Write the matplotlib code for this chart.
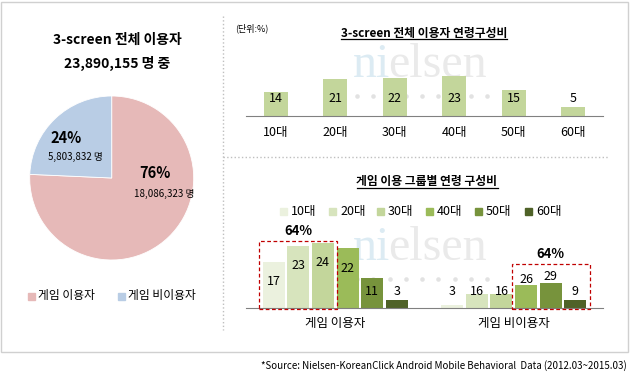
import matplotlib
matplotlib.use("Agg")
import matplotlib.pyplot as plt
from matplotlib.lines import Line2D
from matplotlib.patches import Rectangle
import numpy as np

plt.rcParams["font.family"] = ["Noto Sans CJK KR", "DejaVu Sans"]

# data
pie_labels = ["게임 이용자", "게임 비이용자"]
pie_counts = [18086323, 5803832]
total_users = 23890155

age_labels = ["10대", "20대", "30대", "40대", "50대", "60대"]
total_age_pct = [14, 21, 22, 23, 15, 5]

group_labels = ["게임 이용자", "게임 비이용자"]
group_age_pct = [
    [17, 23, 24, 22, 11, 3],
    [3, 16, 16, 26, 29, 9],
]
highlight = [[0, 1, 2], [3, 4, 5]]

pie_colors = ["#E6B9B8", "#B9CDE5"]
top_color = "#C3D69B"
age_colors = ["#EBF1DE", "#D7E4BD", "#C3D69B", "#9BBB59", "#77933C", "#4F6228"]

W, H = 630, 382


def fr(x, y, w, h):
    # pixel box (top-left origin) -> figure fraction
    return [x / W, 1 - (y + h) / H, w / W, h / H]


fig = plt.figure(figsize=(W / 100, H / 100), dpi=100)
renderer = fig.canvas.get_renderer()

# frame and separators
fig.add_artist(Rectangle((1 / W, 1 - 352 / H), 627 / W, 350 / H, transform=fig.transFigure,
                         fill=False, edgecolor="#D0D0D0", linewidth=1))
fig.add_artist(Line2D([223 / W, 223 / W], [1 - 16 / H, 1 - 330 / H], transform=fig.transFigure,
                      color="#BFBFBF", linestyle=":", linewidth=1))
fig.add_artist(Line2D([223 / W, 608 / W], [1 - 157 / H, 1 - 157 / H], transform=fig.transFigure,
                      color="#BFBFBF", linestyle=":", linewidth=1))

# ---- pie ----
fig.text(117 / W, 1 - 40 / H, "3-screen 전체 이용자", ha="center", va="center",
         fontsize=10, fontweight="bold")
fig.text(117 / W, 1 - 63 / H, f"{total_users:,} 명 중", ha="center", va="center",
         fontsize=10, fontweight="bold")

ax_pie = fig.add_axes(fr(111.7 - 82, 178 - 82, 164, 164))
ax_pie.pie(pie_counts, colors=pie_colors, startangle=90, counterclock=False,
           wedgeprops=dict(linewidth=0.6, edgecolor="white"))
ax_pie.set_xlim(-1, 1)
ax_pie.set_ylim(-1, 1)
ax_pie.set_aspect("equal")
ax_pie.axis("off")
shares = [c / sum(pie_counts) * 100 for c in pie_counts]
ax_pie.text(0.53, 0.06, f"{shares[0]:.0f}%", ha="center", va="center", fontsize=10.5, fontweight="bold")
ax_pie.text(0.64, -0.20, f"{pie_counts[0]:,} 명", ha="center", va="center", fontsize=7)
ax_pie.text(-0.56, 0.49, f"{shares[1]:.0f}%", ha="center", va="center", fontsize=10.5, fontweight="bold")
ax_pie.text(-0.44, 0.26, f"{pie_counts[1]:,} 명", ha="center", va="center", fontsize=7)

leg_pos = [28, 118]
for i, lab in enumerate(pie_labels):
    fig.add_artist(Rectangle((leg_pos[i] / W, 1 - 299.5 / H), 7 / W, 7 / H,
                             transform=fig.transFigure, color=pie_colors[i]))
    fig.text((leg_pos[i] + 10) / W, 1 - 296 / H, lab, ha="left", va="center", fontsize=8.5)


def underlined_title(x, y, text):
    t = fig.text(x / W, 1 - y / H, text, ha="center", va="center", fontsize=8.5,
                 fontweight="bold")
    bb = t.get_window_extent(renderer=renderer).transformed(fig.transFigure.inverted())
    fig.add_artist(Line2D([bb.x0, bb.x1], [bb.y0 + 1 / H, bb.y0 + 1 / H],
                          transform=fig.transFigure, color="black", linewidth=0.9))


def watermark(x0, base):
    t1 = fig.text(x0 / W, 1 - base / H, "ni", ha="left", va="baseline", fontsize=34.5,
                  family="Liberation Serif", color="#DCEBF3", zorder=-1)
    bb = t1.get_window_extent(renderer=renderer).transformed(fig.transFigure.inverted())
    fig.text(bb.x1 - 2 / W, 1 - base / H, "elsen", ha="left", va="baseline", fontsize=34.5,
             family="Liberation Serif", color="#EAEAEA", zorder=-1)
    xs = np.linspace(x0 + 4, x0 + 134, 9) / W
    fig.add_artist(Line2D(xs, [1 - (base + 19) / H] * len(xs), transform=fig.transFigure,
                          linestyle="none", marker="o", markersize=3.3, markeredgewidth=0,
                          color="#E2E2E2", zorder=-1))


# ---- top bar chart ----
fig.text(235 / W, 1 - 28 / H, "(단위:%)", ha="left", va="center", fontsize=6.5)
underlined_title(424, 33, "3-screen 전체 이용자 연령구성비")
watermark(353, 77)

ax_top = fig.add_axes(fr(246, 60, 357, 56))
ax_top.patch.set_visible(False)
x = np.arange(len(age_labels))
ax_top.bar(x, total_age_pct, width=0.4, color=top_color)
ax_top.set_xlim(-0.5, len(age_labels) - 0.5)
ax_top.set_ylim(0, 56 / 1.74)
for xi, v in zip(x, total_age_pct):
    ax_top.text(xi, 10, str(v), ha="center", va="center", fontsize=9)
for s in ["top", "left", "right"]:
    ax_top.spines[s].set_visible(False)
ax_top.spines["bottom"].set_color("#808080")
ax_top.set_yticks([])
ax_top.set_xticks(x)
ax_top.set_xticklabels(age_labels, fontsize=9)
ax_top.tick_params(axis="x", length=0, pad=7)

# ---- bottom grouped bar chart ----
underlined_title(427, 182, "게임 이용 그룹별 연령 구성비")
watermark(353, 260)

leg_x = [280, 329, 377, 426, 475, 525]
for i, lab in enumerate(age_labels):
    fig.add_artist(Rectangle((leg_x[i] / W, 1 - 214.5 / H), 7 / W, 7 / H,
                             transform=fig.transFigure, color=age_colors[i]))
    fig.text((leg_x[i] + 11) / W, 1 - 211 / H, lab, ha="left", va="center", fontsize=9)

px_per_unit = 3.57
ax_bot = fig.add_axes(fr(246, 225, 357, 82.7))
ax_bot.patch.set_visible(False)
ax_bot.set_xlim(-0.5, 1.5)
ax_bot.set_ylim(0, 82.7 / px_per_unit)
step, bw = 0.138, 0.123
for g, vals in enumerate(group_age_pct):
    heights = [v * shares[g] / 100 for v in vals]
    xs = [g + (i - 2.5) * step for i in range(len(vals))]
    ax_bot.bar(xs, heights, width=bw, color=age_colors, zorder=2)
    label_px = []
    for xi, h, v in zip(xs, heights, vals):
        hp = h * px_per_unit
        if hp >= 28:
            ly = max(hp - 20, 16)
        elif hp > 20:
            ly = hp + 6
        else:
            ly = 16
        label_px.append(ly)
        ax_bot.text(xi, ly / px_per_unit, str(v), ha="center", va="center", fontsize=9, zorder=3)
    # dashed highlight box
    idx = highlight[g]
    x0 = xs[idx[0]] - bw / 2 - 0.018
    x1 = xs[idx[-1]] + bw / 2 + 0.018
    top_px = max(max(heights[i] * px_per_unit + 2, label_px[i] + 13) for i in idx)
    ax_bot.add_patch(Rectangle((x0, -1.3 / px_per_unit), x1 - x0, (top_px + 1.3) / px_per_unit,
                               fill=False, edgecolor="#C00000", linestyle=(0, (3, 2)),
                               linewidth=0.9, clip_on=False, zorder=4))
    ax_bot.text((x0 + x1) / 2, (top_px + 10) / px_per_unit, f"{sum(vals[i] for i in idx)}%",
                ha="center", va="center", fontsize=9.5, fontweight="bold", clip_on=False)

for s in ["top", "left", "right"]:
    ax_bot.spines[s].set_visible(False)
ax_bot.spines["bottom"].set_color("#808080")
ax_bot.set_yticks([])
ax_bot.set_xticks(range(len(group_labels)))
ax_bot.set_xticklabels(group_labels, fontsize=9)
ax_bot.tick_params(axis="x", length=0, pad=7)

fig.text(627 / W, 1 - 366 / H,
         "*Source: Nielsen-KoreanClick Android Mobile Behavioral  Data (2012.03~2015.03)",
         ha="right", va="center", fontsize=7)

fig.savefig("out.png", dpi=100)
